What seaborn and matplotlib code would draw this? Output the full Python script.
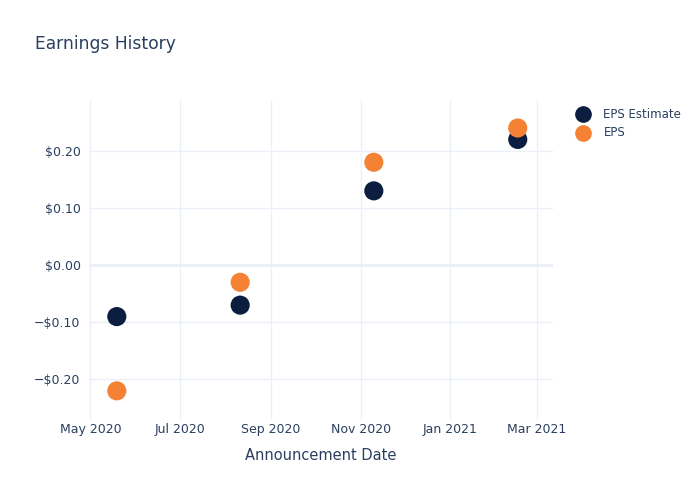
import matplotlib
matplotlib.use("Agg")
import matplotlib.pyplot as plt
import matplotlib.dates as mdates
from matplotlib.ticker import FuncFormatter
import seaborn as sns
import pandas as pd

dates = ["2020-05-19", "2020-08-11", "2020-11-10", "2021-02-16"]
eps_estimate = [-0.09, -0.07, 0.13, 0.22]
eps_actual = [-0.22, -0.03, 0.18, 0.24]
series_names = ["EPS Estimate", "EPS"]
colors = {"EPS Estimate": "#0b1e3f", "EPS": "#f58234"}

df = pd.DataFrame({
    "date": pd.to_datetime(dates * 2),
    "value": eps_estimate + eps_actual,
    "series": [series_names[0]] * len(dates) + [series_names[1]] * len(dates),
})

sns.set_theme(style="white")
plt.rcParams['font.family'] = ['DejaVu Sans']
txt = "#2a3f5f"

fig = plt.figure(figsize=(7, 5), dpi=100)
ax = fig.add_axes([0.127, 0.16, 0.663, 0.64])

sns.scatterplot(data=df, x="date", y="value", hue="series", palette=colors,
                s=190, linewidth=0, ax=ax, zorder=3, legend=False)

ax.set_xlim(pd.Timestamp("2020-04-30"), pd.Timestamp("2021-03-12"))
ax.set_ylim(-0.271, 0.289)
ax.set_yticks([-0.2, -0.1, 0.0, 0.1, 0.2])
ax.yaxis.set_major_formatter(FuncFormatter(
    lambda v, p: ("\u2212$%.2f" % abs(v)) if v < -1e-9 else "$%.2f" % abs(v)))
ticks = pd.to_datetime(["2020-05-01", "2020-07-01", "2020-09-01", "2020-11-01",
                        "2021-01-01", "2021-03-01"])
ax.set_xticks(ticks)
ax.xaxis.set_major_formatter(mdates.DateFormatter("%b %Y"))

ax.grid(True, color="#ebf0f8", linewidth=1, zorder=0)
ax.axhline(0, color="#ebf0f8", linewidth=2, zorder=1)
for s in ax.spines.values():
    s.set_visible(False)
ax.tick_params(axis="y", length=0, labelsize=9, colors=txt, pad=6)
ax.tick_params(axis="x", length=0, labelsize=9, colors=txt, pad=2)
ax.set_xlabel("Announcement Date", fontsize=10.5, color=txt, labelpad=9)
ax.set_ylabel("")

fig.text(0.05, 0.912, "Earnings History", fontsize=12.3, color=txt, va="center")

# legend
for i, name in enumerate(series_names):
    y = 0.772 - i * 0.038
    fig.lines.append(plt.Line2D([0.833], [y], marker="o", markersize=11,
                                color=colors[name], linestyle="none",
                                transform=fig.transFigure))
    fig.text(0.862, y, name, fontsize=8.5, color=txt, va="center")

fig.savefig("out.png", dpi=100)
